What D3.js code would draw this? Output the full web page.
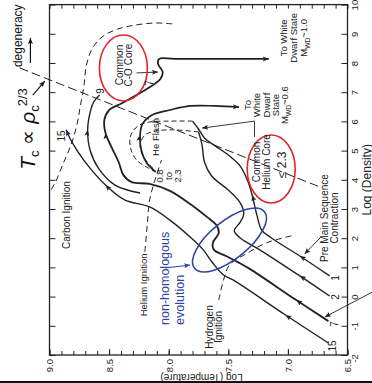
<!DOCTYPE html>
<html>
<head>
<meta charset="utf-8">
<script src="https://cdn.jsdelivr.net/npm/d3@7"></script>
<style>
  html, body { margin: 0; padding: 0; background: #fff; }
  svg { display: block; }
  text { font-family: "Liberation Sans", Arial, sans-serif; }
</style>
</head>
<body>
<svg id="chart" width="372" height="383"></svg>
<script>
// central density / temperature of evolving stars, drawn turned by 90 degrees
// every point is [log density, log temperature]
const track1 = [[0.71, 6.65], [1.39, 6.90], [2.04, 7.15], [2.28, 7.22], [2.79, 7.26], [3.48, 7.30], [3.99, 7.34], [4.47, 7.40], [4.85, 7.50], [5.16, 7.61], [5.43, 7.70], [5.74, 7.75], [6.01, 7.80]];
const track2 = [[0.02, 6.65], [0.71, 6.90], [1.56, 7.22], [1.80, 7.32], [2.01, 7.40], [2.25, 7.45], [2.55, 7.40], [2.83, 7.37], [3.21, 7.40], [3.65, 7.50], [4.13, 7.64], [4.61, 7.70], [5.19, 7.72], [5.64, 7.75]];
const track7 = [[-0.84, 6.66], [-0.12, 6.93], [0.95, 7.32], [1.18, 7.42], [1.39, 7.52], [1.60, 7.62], [1.84, 7.63], [2.18, 7.58], [2.45, 7.60], [2.73, 7.68], [3.17, 7.82], [3.62, 7.99], [3.86, 8.16], [3.92, 8.31], [4.16, 8.38], [4.61, 8.42], [5.12, 8.48], [5.60, 8.53], [6.05, 8.54], [6.39, 8.50], [6.63, 8.39], [7.14, 8.17], [7.45, 8.07], [7.69, 8.05], [7.97, 8.09], [8.14, 8.08], [8.14, 7.95], [8.14, 7.16]];
const track15 = [[-1.59, 6.66], [-0.63, 7.02], [0.57, 7.46], [0.74, 7.54], [1.15, 7.63], [1.60, 7.71], [2.04, 7.82], [2.62, 7.99], [3.07, 8.16], [3.31, 8.37], [3.82, 8.53], [4.40, 8.66], [4.95, 8.76], [5.43, 8.83], [5.71, 8.86]];
const track9 = [[3.55, 8.24], [3.82, 8.45], [4.40, 8.59], [5.02, 8.66], [5.71, 8.68], [6.29, 8.66], [6.66, 8.63], [6.90, 8.58]];
const postFlash = [[4.27, 8.11], [4.61, 8.19], [5.02, 8.23], [5.53, 8.24], [5.91, 8.22], [6.22, 8.14], [6.39, 7.99], [6.53, 7.82], [6.53, 7.61], [6.49, 7.41]];
const flashJumpA = [[6.01, 7.80], [6.01, 7.99], [5.98, 8.16], [5.84, 8.26], [5.50, 8.32], [5.09, 8.32], [4.68, 8.27], [4.40, 8.17], [4.27, 8.11]];
const flashJumpB = [[5.64, 7.75], [5.71, 7.95], [5.67, 8.11], [5.53, 8.20], [5.19, 8.24], [4.85, 8.22], [4.51, 8.16], [4.30, 8.11]];
const heliumIgnition = [[1.53, 8.20], [2.45, 8.18], [3.31, 8.16], [4.06, 8.11], [4.68, 8.06]];
const hydrogenIgnition = [[-0.12, 7.58], [0.57, 7.54], [1.08, 7.49], [1.49, 7.34], [1.84, 7.18], [2.08, 6.97]];
const carbonIgnition = [[9.34, 7.97], [9.37, 8.11], [9.30, 8.28], [9.16, 8.43], [8.92, 8.55], [8.51, 8.64], [7.93, 8.69], [7.25, 8.71], [6.56, 8.74], [5.88, 8.77], [5.19, 8.82], [4.51, 8.89], [3.92, 8.95], [3.58, 9.00]];
const degeneracyLine = [[7.83, 9.25], [3.72, 6.71]];

const tempTicks = [9.0, 8.5, 8.0, 7.5, 7.0, 6.5];
const tempMinorTicks = d3.range(65, 91).map(v => v / 10);
const densityTicks = [-2, -1, 0, 1, 2, 3, 4, 5, 6, 7, 8, 9, 10];

const ink = '#222';
const red = '#e3262b';
const blue = '#2e44a6';

const svg = d3.select('#chart');
const xT = d3.scaleLinear().domain([9, 6.5]).range([49.5, 347.5]);
const yR = d3.scaleLinear().domain([-2, 10]).range([355, 4.6]);
const toPx = d => [xT(d[1]), yR(d[0])];

const smooth = d3.line().x(d => xT(d[1])).y(d => yR(d[0])).curve(d3.curveCatmullRom.alpha(0.5));
const straight = d3.line().x(d => xT(d[1])).y(d => yR(d[0]));

// frame
svg.append('rect')
  .attr('x', xT(9)).attr('y', yR(10))
  .attr('width', xT(6.5) - xT(9)).attr('height', yR(-2) - yR(10))
  .attr('fill', 'none').attr('stroke', ink).attr('stroke-width', 1.3);

function cleanAxis(g) {
  g.select('.domain').remove();
  g.attr('color', ink).attr('font-family', '"Liberation Sans", Arial, sans-serif').attr('font-size', 9.5);
}

svg.append('g').attr('transform', `translate(0,${yR(-2)})`)
  .call(d3.axisBottom(xT).tickValues(tempMinorTicks).tickSize(-4).tickFormat(''))
  .call(cleanAxis);
svg.append('g').attr('transform', `translate(0,${yR(-2)})`)
  .call(d3.axisBottom(xT).tickValues(tempTicks).tickSize(-6).tickFormat(d3.format('.1f')))
  .call(cleanAxis)
  .call(g => g.selectAll('text')
    .attr('transform', 'rotate(-90)')
    .attr('text-anchor', 'end')
    .attr('x', -4).attr('y', 3.4).attr('dy', 0));
svg.append('g').attr('transform', `translate(0,${yR(10)})`)
  .call(d3.axisTop(xT).tickValues(tempMinorTicks).tickSize(-4).tickFormat(''))
  .call(cleanAxis);
svg.append('g').attr('transform', `translate(${xT(9)},0)`)
  .call(d3.axisLeft(yR).tickValues(densityTicks).tickSize(-6).tickFormat(''))
  .call(cleanAxis);
svg.append('g').attr('transform', `translate(${xT(6.5)},0)`)
  .call(d3.axisRight(yR).tickValues(densityTicks).tickSize(-6).tickFormat(d => String(d)))
  .call(cleanAxis)
  .call(g => g.selectAll('text')
    .attr('transform', 'rotate(-90)')
    .attr('text-anchor', 'middle')
    .attr('x', d => d === -2 ? -3 : 0).attr('y', 10.5).attr('dy', 0));

// axis titles (the temperature one is upside down, as in the turned figure)
svg.append('text')
  .attr('transform', `translate(${(xT(9) + xT(6.5)) / 2 + 3},${yR(-2) + 19}) rotate(180)`)
  .attr('text-anchor', 'middle').attr('font-size', 10).style('fill', ink)
  .text('Log (Temperature)');
svg.append('text')
  .attr('transform', `translate(${xT(6.5) + 23},${yR(4.0)}) rotate(-90)`)
  .attr('text-anchor', 'middle').attr('font-size', 12).style('fill', ink)
  .text('Log (Density)');

// dashed boundaries
const dashed = [
  { pts: carbonIgnition, dash: '6,4', gen: smooth },
  { pts: heliumIgnition, dash: '6,4', gen: smooth },
  { pts: hydrogenIgnition, dash: '6,4', gen: smooth },
  { pts: flashJumpA, dash: '5,3', gen: smooth },
  { pts: flashJumpB, dash: '5,3', gen: smooth },
  { pts: degeneracyLine, dash: '9,4', gen: straight }
];
svg.append('g').selectAll('path').data(dashed).join('path')
  .attr('d', d => d.gen(d.pts))
  .attr('fill', 'none').attr('stroke', ink).attr('stroke-width', 1)
  .attr('stroke-dasharray', d => d.dash);

// evolutionary tracks, arrows at vertex index (pointing to the next point) or at the end
const tracks = [
  { pts: track1, width: 1.4, arrows: [1, 5] },
  { pts: track2, width: 1.4, arrows: [1] },
  { pts: track7, width: 1.8, arrows: [1, 17, 'end'] },
  { pts: track15, width: 1.4, arrows: [1, 10, 'end'] },
  { pts: track9, width: 1.4, arrows: [4] },
  { pts: postFlash, width: 1.7, arrows: [3, 'end'] }
];
svg.append('g').selectAll('path').data(tracks).join('path')
  .attr('d', d => smooth(d.pts))
  .attr('fill', 'none').attr('stroke', ink)
  .attr('stroke-width', d => d.width).attr('stroke-linejoin', 'round');

function arrowHead(p, q, color, size) {
  const a = Math.atan2(q[1] - p[1], q[0] - p[0]) * 180 / Math.PI;
  const s = size || 6;
  svg.append('path')
    .attr('d', `M0,0L${-s},${-s * 0.42}L${-s * 0.8},0L${-s},${s * 0.42}Z`)
    .attr('transform', `translate(${q[0]},${q[1]}) rotate(${a})`)
    .attr('fill', color || ink);
}

tracks.forEach(t => {
  const pts = t.pts.map(toPx);
  t.arrows.forEach(i => {
    if (i === 'end') arrowHead(pts[pts.length - 2], pts[pts.length - 1]);
    else {
      const back = [pts[i][0] - (pts[i + 1][0] - pts[i][0]) * 0.01, pts[i][1] - (pts[i + 1][1] - pts[i][1]) * 0.01];
      arrowHead(back, pts[i]);
    }
  });
});

// leader arrows
const leaders = [
  { pts: [[7.66, 8.27], [7.69, 8.09]], color: ink, width: 0.9 },
  { pts: [[5.47, 7.28], [6.01, 7.28], [5.77, 7.72]], color: ink, width: 0.9 },
  { pts: [[2.01, 6.73], [1.46, 6.86]], color: ink, width: 0.9 },
  { pts: [[0.16, 6.29], [-0.70, 6.69]], color: ink, width: 0.9 },
  { pts: [[0.98, 8.03], [1.08, 7.82]], color: blue, width: 1 },
  { pts: [[8.0, 9.16], [8.86, 9.16]], color: '#111', width: 1.2 },
  { pts: [[6.90, 9.14], [7.38, 9.04]], color: '#111', width: 1.1 }
];
leaders.forEach(l => {
  svg.append('path').attr('d', straight(l.pts))
    .attr('fill', 'none').attr('stroke', l.color).attr('stroke-width', l.width);
  const pts = l.pts.map(toPx);
  arrowHead(pts[pts.length - 2], pts[pts.length - 1], l.color, 6);
});

// highlight ellipses
const rings = [
  { T: 8.38, rho: 7.83, rx: 24, ry: 33, angle: 0, color: red },
  { T: 7.14, rho: 4.37, rx: 24, ry: 34, angle: 0, color: red },
  { T: 7.49, rho: 1.94, rx: 45, ry: 19, angle: -39, color: blue }
];
svg.append('g').selectAll('ellipse').data(rings).join('ellipse')
  .attr('transform', d => `translate(${xT(d.T)},${yR(d.rho)}) rotate(${d.angle})`)
  .attr('rx', d => d.rx).attr('ry', d => d.ry)
  .attr('fill', 'none').attr('stroke', d => d.color).attr('stroke-width', 1.6);

// rotated labels, {..} marks a subscript
const labels = [
  { lines: ['Common', 'C-O Core'], T: 8.375, rho: 7.93, size: 10, lh: 9 },
  { lines: ['To White', 'Dwarf State', 'M{WD}~1.0'], T: 6.95, rho: 8.86, size: 9.5, lh: 10 },
  { lines: ['To', 'White', 'Dwarf', 'State', 'M{WD}~0.6'], T: 7.18, rho: 6.56, size: 9.5, lh: 9.3 },
  { lines: ['Common', 'Helium Core'], T: 7.22, rho: 4.61, size: 10, lh: 10 },
  { lines: ['\u2264 2.3'], T: 7.05, rho: 4.51, size: 12 },
  { lines: ['Pre Main Sequence', 'Contraction'], T: 6.655, rho: 2.69, size: 10, lh: 10 },
  { lines: ['He Flash'], T: 8.11, rho: 5.47, size: 9.5 },
  { lines: ['0.8', 'to', '2.3'], T: 8.0, rho: 4.13, size: 9.5, lh: 9 },
  { lines: ['Carbon Ignition'], T: 8.86, rho: 2.79, size: 10 },
  { lines: ['Helium Ignition'], T: 8.21, rho: 0.40, size: 9.5 },
  { lines: ['Hydrogen', 'Ignition'], T: 7.62, rho: -1.04, size: 10, lh: 8.5 },
  { lines: ['15'], T: 8.90, rho: 5.50, size: 10 },
  { lines: ['9'], T: 8.57, rho: 7.04, size: 10 },
  { lines: ['7'], T: 8.16, rho: 7.32, size: 10 },
  { lines: ['1'], T: 6.60, rho: 0.64, size: 10 },
  { lines: ['2'], T: 6.60, rho: -0.01, size: 10 },
  { lines: ['7'], T: 6.61, rho: -0.94, size: 10 },
  { lines: ['15'], T: 6.63, rho: -1.69, size: 10 },
  { lines: ['non-homologous', 'evolution'], T: 7.97, rho: -0.97, size: 12.5, lh: 15, anchor: 'start', color: blue },
  { lines: ['degeneracy'], T: 9.27, rho: 7.86, size: 12, anchor: 'start', color: '#111' }
];

labels.forEach(a => {
  const size = a.size, lh = a.lh || size;
  const text = svg.append('text')
    .attr('transform', `translate(${xT(a.T)},${yR(a.rho)}) rotate(-90)`)
    .attr('font-size', size)
    .attr('text-anchor', a.anchor || 'middle')
    .style('fill', a.color || ink);
  a.lines.forEach((s, i) => {
    const row = text.append('tspan').attr('x', 0)
      .attr('y', (i - (a.lines.length - 1) / 2) * lh + 0.35 * size);
    let lowered = false;
    s.split(/(\{[^}]*\})/).filter(Boolean).forEach(part => {
      if (part[0] === '{') {
        row.append('tspan').attr('font-size', size * 0.7).attr('dy', size * 0.3).text(part.slice(1, -1));
        lowered = true;
      } else {
        const sp = row.append('tspan').text(part);
        if (lowered) { sp.attr('dy', -size * 0.3); lowered = false; }
      }
    });
  });
});

// T_c ~ rho_c^(2/3) formula
const formula = svg.append('text')
  .attr('transform', `translate(${xT(9.12)},${yR(4.34)}) rotate(-90)`)
  .attr('font-family', '"Liberation Serif", "DejaVu Serif", serif')
  .attr('font-size', 21).style('fill', '#111');
formula.append('tspan').attr('font-style', 'italic').text('T');
formula.append('tspan').attr('font-size', 13).attr('dy', 4).text('c');
formula.append('tspan').attr('dy', -4).text(' \u221D ');
formula.append('tspan').attr('font-style', 'italic').text('\u03C1');
formula.append('tspan').attr('font-size', 13).attr('dy', 4).text('c');
formula.append('tspan').attr('font-size', 13).attr('dy', -12).attr('dx', -1).text('2/3');

// dark edge of the scanned page
svg.append('rect').attr('x', 0).attr('y', 381).attr('width', 372).attr('height', 2).attr('fill', '#111');
</script>
</body>
</html>
